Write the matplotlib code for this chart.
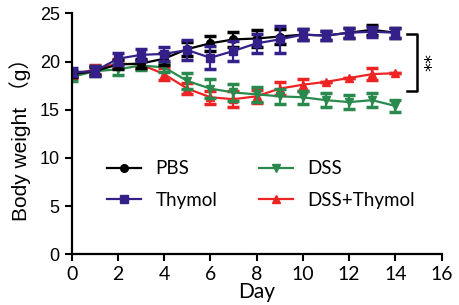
import numpy as np
import matplotlib
matplotlib.use("Agg")
import matplotlib.pyplot as plt

# data
days = np.arange(0, 15)
pbs = [18.7, 19.0, 19.7, 19.8, 20.3, 21.3, 21.9, 22.3, 22.4, 22.6, 22.8, 22.7, 23.0, 23.3, 23.0]
pbs_err = [0.3, 0.4, 0.5, 0.5, 0.6, 0.7, 0.8, 0.8, 0.9, 0.8, 0.6, 0.5, 0.5, 0.5, 0.5]
thymol = [18.9, 19.0, 20.3, 20.7, 20.8, 21.2, 20.4, 21.1, 21.9, 22.3, 22.8, 22.7, 23.0, 23.1, 23.0]
thymol_err = [0.4, 0.5, 0.6, 0.6, 0.7, 1.0, 1.2, 1.0, 1.0, 1.4, 0.6, 0.5, 0.5, 0.5, 0.5]
dss = [18.4, 19.0, 19.2, 19.6, 19.4, 18.0, 17.2, 16.8, 16.6, 16.4, 16.3, 16.0, 15.8, 16.0, 15.4]
dss_err = [0.4, 0.5, 0.6, 0.5, 0.5, 0.8, 1.0, 0.9, 0.8, 0.8, 0.7, 0.7, 0.7, 0.7, 0.6]
dss_thy = [18.6, 19.2, 19.8, 19.7, 18.7, 17.2, 16.3, 16.1, 16.4, 17.2, 17.6, 17.9, 18.3, 18.7, 18.8]
dss_thy_err = [0.3, 0.5, 0.5, 0.5, 0.6, 0.6, 0.7, 0.8, 0.7, 0.7, 0.6, 0.0, 0.0, 0.6, 0.0]

labels = ["PBS", "Thymol", "DSS", "DSS+Thymol"]
xticks = [0, 2, 4, 6, 8, 10, 12, 14, 16]
yticks = [0, 5, 10, 15, 20, 25]

ax_font = ["Liberation Sans", "Noto Sans CJK SC"]
cal_font = ["Lato", "DejaVu Sans"]

fig = plt.figure(figsize=(4.59, 3.05), dpi=100)
ax = fig.add_axes([0.156, 0.166, 0.806, 0.79])

series = [
    (dss_thy, dss_thy_err, "#ee2424", "^", labels[3]),
    (dss, dss_err, "#2a8a4e", "v", labels[2]),
    (pbs, pbs_err, "black", "o", labels[0]),
    (thymol, thymol_err, "#35208a", "s", labels[1]),
]
handles = {}
for vals, err, col, mk, lab in series:
    ax.errorbar(days, vals, yerr=err, fmt="none", ecolor=col, elinewidth=1.6,
                capsize=4, capthick=2.5)
    h, = ax.plot(days, vals, color=col, lw=1.6, marker=mk, ms=5.5, label=lab)
    handles[lab] = h

ax.set_xlim(0, 16)
ax.set_ylim(0, 25)
ax.set_xticks(xticks)
ax.set_yticks(yticks)
ax.spines["top"].set_visible(False)
ax.spines["right"].set_visible(False)
ax.spines["left"].set_linewidth(1.6)
ax.spines["bottom"].set_linewidth(1.6)
ax.tick_params(width=1.5, length=5, direction="out")
for t in ax.get_yticklabels():
    t.set_fontfamily(ax_font)
    t.set_fontsize(13)
for t in ax.get_xticklabels():
    t.set_fontfamily(cal_font)
    t.set_fontsize(14)

ax.set_ylabel("Body weight （g）", family=ax_font, fontsize=15, labelpad=6)
ax.set_xlabel("Day", family=cal_font, fontsize=15, labelpad=-1)

leg = ax.legend([handles[l] for l in labels], labels, ncol=2, frameon=False,
                loc="center left", bbox_to_anchor=(0.05, 0.29),
                prop={"family": cal_font, "size": 13.5},
                handlelength=1.8, labelspacing=0.75, columnspacing=2.2)

# significance bracket
ax.plot([14.5, 14.95, 14.95, 14.5], [22.9, 22.9, 17.0, 17.0], color="black",
        lw=1.8, clip_on=False)
ax.text(15.6, 20.0, "**", rotation=90, ha="center", va="center", fontsize=13)

fig.savefig("out.png", dpi=100)
